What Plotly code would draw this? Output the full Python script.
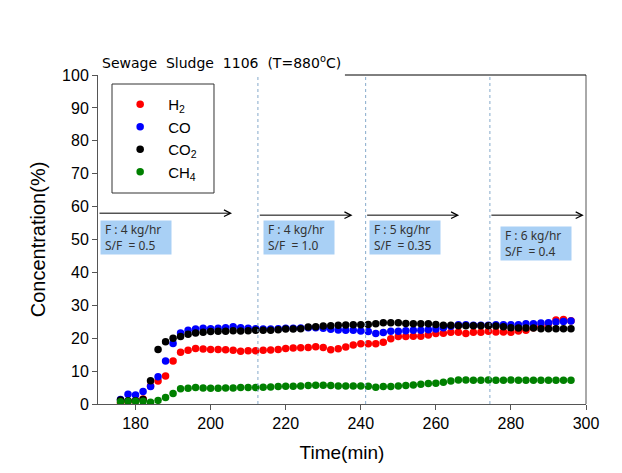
import plotly.graph_objects as go

time_min = [176, 178, 180, 182, 184, 186, 188, 190, 192, 194, 196, 198, 200, 202, 204, 206,
            208, 210, 212, 214, 216, 218, 220, 222, 224, 226, 228, 230, 232, 234, 236, 238,
            240, 242, 244, 246, 248, 250, 252, 254, 256, 258, 260, 262, 264, 266, 268, 270,
            272, 274, 276, 278, 280, 282, 284, 286, 288, 290, 292, 294, 296]

h2 = [0.3, 0.8, 1.0, 1.5, 5.5, 7.0, 8.5, 13.1, 15.7, 16.3, 16.9, 16.7, 16.6, 16.6, 16.5, 16.3,
      16.0, 16.2, 16.2, 16.3, 16.4, 16.6, 16.9, 17.0, 17.1, 17.2, 17.4, 17.2, 16.5, 16.8, 17.3, 17.9,
      18.3, 18.3, 18.3, 18.8, 19.8, 20.5, 20.5, 20.6, 20.6, 21.0, 21.4, 21.5, 21.8, 21.8, 21.4, 21.8,
      21.8, 22.1, 21.9, 21.9, 21.8, 22.2, 22.4, 23.2, 23.6, 24.4, 25.5, 25.7, 25.3]

co = [1.4, 3.0, 2.7, 3.8, 5.3, 8.3, 13.1, 18.4, 21.6, 22.4, 22.8, 23.0, 22.9, 23.0, 23.2, 23.5,
      23.2, 23.0, 22.9, 22.8, 22.8, 22.9, 23.0, 23.0, 23.1, 23.2, 23.2, 23.0, 22.7, 22.5, 22.4, 22.4,
      22.2, 22.0, 21.4, 21.7, 22.1, 22.1, 22.3, 22.4, 22.4, 22.6, 22.8, 23.2, 23.6, 24.1, 24.1, 23.9,
      23.9, 23.9, 24.1, 24.1, 24.1, 24.1, 24.4, 24.4, 24.6, 24.7, 24.9, 25.1, 25.2]

co2 = [1.2, 1.0, 1.0, 1.4, 7.1, 16.6, 18.9, 20.0, 20.5, 21.2, 21.6, 21.8, 22.0, 22.1, 22.1, 22.3,
       22.2, 22.3, 22.4, 22.4, 22.4, 22.6, 22.8, 22.8, 22.9, 23.4, 23.5, 23.7, 23.8, 23.9, 24.0, 24.1,
       24.1, 24.2, 24.4, 24.7, 24.7, 24.7, 24.5, 24.4, 24.4, 24.4, 24.2, 23.9, 23.9, 23.8, 23.8, 23.8,
       23.8, 23.8, 23.7, 23.5, 23.2, 23.1, 23.1, 23.1, 22.9, 22.9, 22.9, 22.9, 22.9]

ch4 = [0.7, 0.8, 0.8, 0.8, 0.5, 1.1, 2.0, 3.2, 4.6, 4.8, 5.0, 4.9, 4.8, 4.8, 4.9, 4.9,
       5.0, 5.0, 5.0, 5.1, 5.2, 5.3, 5.4, 5.4, 5.5, 5.6, 5.7, 5.7, 5.6, 5.5, 5.5, 5.5,
       5.5, 5.4, 5.1, 5.3, 5.3, 5.5, 5.6, 5.8, 6.0, 6.2, 6.3, 6.6, 7.0, 7.3, 7.3, 7.2,
       7.2, 7.3, 7.2, 7.2, 7.3, 7.2, 7.2, 7.2, 7.2, 7.2, 7.2, 7.2, 7.2]

series_names = ["H<sub>2</sub>", "CO", "CO<sub>2</sub>", "CH<sub>4</sub>"]
series_values = [h2, co, co2, ch4]
series_colors = ["#ff0000", "#0000ff", "#000000", "#008000"]

# condition change times (dotted lines) and arrow spans
change_times = [212.6, 241.3, 274.4]
arrow_spans = [(170, 205.7, 58.0), (212.7, 237.8, 57.4), (241.3, 266.2, 57.4), (274.4, 299.4, 57.4)]
box_texts = ["F : 4 kg/hr<br>S/F  = 0.5", "F : 4 kg/hr<br>S/F  = 1.0",
             "F : 5 kg/hr<br>S/F  = 0.35", "F : 6 kg/hr<br>S/F  = 0.4"]
box_pos = [(170.5, 55.9), (214.0, 55.9), (242.3, 55.9), (277.2, 54.1)]

x_ticks = [180, 200, 220, 240, 260, 280, 300]
y_ticks = [0, 10, 20, 30, 40, 50, 60, 70, 80, 90, 100]

fig = go.Figure()
for i, (name, vals, col) in enumerate(zip(series_names, series_values, series_colors)):
    fig.add_trace(go.Scatter(x=time_min, y=vals, mode="markers", name=name, legendgroup=f"g{i}",
                             marker=dict(color=col, size=7.5, line=dict(width=0))))

axis_col = "#555555"
fig.update_layout(
    width=622, height=473,
    margin=dict(l=90, r=44, t=67, b=77),
    paper_bgcolor="white", plot_bgcolor="white",
    font=dict(family="Liberation Sans, Arial, sans-serif", color="#000000"),
    showlegend=True,
    legend=dict(x=0.029, y=0.9605, xanchor="left", yanchor="top",
                borderwidth=0, bgcolor="rgba(0,0,0,0)", itemwidth=46,
                font=dict(size=15), itemsizing="trace", tracegroupgap=0),
    xaxis=dict(range=[170, 300], tickvals=x_ticks, showgrid=False, zeroline=False,
               showline=True, linecolor=axis_col, linewidth=1,
               ticks="outside", ticklen=5, tickcolor=axis_col,
               tickfont=dict(size=16),
               title=dict(text="Time(min)", font=dict(size=19), standoff=14)),
    yaxis=dict(range=[0, 100], tickvals=y_ticks, showgrid=False, zeroline=False,
               showline=True, linecolor=axis_col, linewidth=1,
               ticks="outside", ticklen=5, tickcolor=axis_col,
               tickfont=dict(size=16),
               title=dict(text="Concentration(%)", font=dict(size=20), standoff=11)),
)

# legend frame
fig.add_shape(type="rect", xref="paper", yref="paper", x0=0.0287, x1=0.2377, y0=0.6413, y1=0.9726,
              line=dict(color="#333333", width=1), fillcolor="rgba(0,0,0,0)")

# right border and partial top border
fig.add_shape(type="line", xref="paper", yref="paper", x0=1, x1=1, y0=0, y1=1,
              line=dict(color=axis_col, width=1))
fig.add_shape(type="line", xref="paper", yref="paper", x0=0.506, x1=1, y0=1, y1=1,
              line=dict(color="#000000", width=1))

for t in change_times:
    fig.add_shape(type="line", xref="x", yref="paper", x0=t, x1=t, y0=0, y1=1,
                  line=dict(color="#86aacb", width=1, dash="dot"))

for x0, x1, yv in arrow_spans:
    fig.add_annotation(x=x1, y=yv, ax=x0, ay=yv, xref="x", yref="y", axref="x", ayref="y",
                       showarrow=True, arrowhead=5, arrowsize=1.3, arrowwidth=1,
                       arrowcolor="#000000", text="")

for (bx, by), txt in zip(box_pos, box_texts):
    fig.add_annotation(x=bx, y=by, xref="x", yref="y", xanchor="left", yanchor="top",
                       text=txt, showarrow=False, align="left",
                       width=62, height=25, borderpad=4, bgcolor="#a9d0f5",
                       font=dict(family="Noto Sans, DejaVu Sans, sans-serif", size=12, color="#333333"))

fig.add_annotation(x=0.004, y=1.0395, xref="paper", yref="paper", xanchor="left", yanchor="middle",
                   text="Sewage  Sludge  1106  (T=880<sup>o</sup>C)", showarrow=False,
                   font=dict(family="DejaVu Sans, sans-serif", size=14, color="#000000"))

fig.write_html("out.html")
